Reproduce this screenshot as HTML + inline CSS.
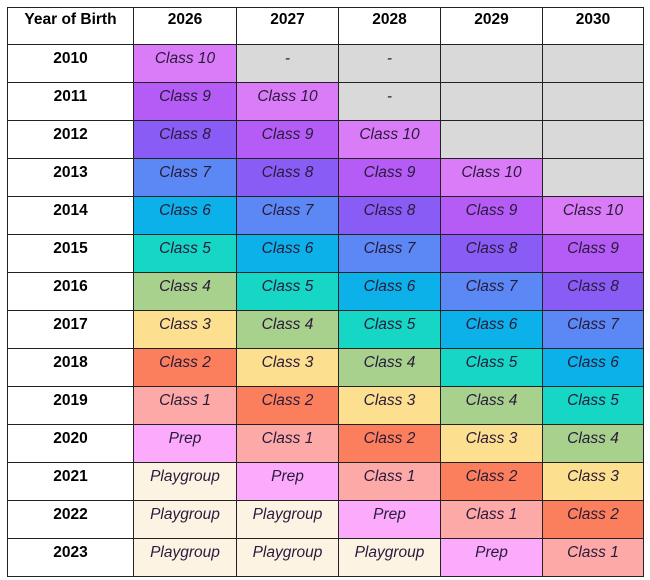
<!DOCTYPE html><html><head><style>
body{margin:0;background:#fff;width:650px;height:580px;overflow:hidden}
table{position:absolute;left:7px;top:7px;border-collapse:collapse;font-family:"Liberation Sans",sans-serif;table-layout:fixed}
td{border:1.5px solid #222;height:37px;padding:0;text-align:center;vertical-align:top;font-size:15.5px;line-height:27px;font-style:italic;color:#2a1a3a}
tr:first-child td{font-weight:bold;font-style:normal;color:#000;height:36px;line-height:24px}
td.y{font-weight:bold;font-style:normal;color:#000}
.c10{background:#da7cf7}.c9{background:#b45cf5}.c8{background:#8a5cf6}.c7{background:#5b88f5}.c6{background:#0cb1ea}.c5{background:#16d6c6}.c4{background:#a7d18d}.c3{background:#fde08f}.c2{background:#fc7f5d}.c1{background:#fca9a7}.p{background:#fcaafc}.g{background:#fdf3e3}.x{background:#d9d9d9}
</style></head><body>
<table>
<colgroup><col style="width:126px"><col style="width:103px"><col style="width:102px"><col style="width:102px"><col style="width:102px"><col style="width:101px"></colgroup>
<tr><td>Year of Birth</td><td>2026</td><td>2027</td><td>2028</td><td>2029</td><td>2030</td></tr>
<tr><td class="y">2010</td><td class="c10">Class 10</td><td class="x">-</td><td class="x">-</td><td class="x"></td><td class="x"></td></tr>
<tr><td class="y">2011</td><td class="c9">Class 9</td><td class="c10">Class 10</td><td class="x">-</td><td class="x"></td><td class="x"></td></tr>
<tr><td class="y">2012</td><td class="c8">Class 8</td><td class="c9">Class 9</td><td class="c10">Class 10</td><td class="x"></td><td class="x"></td></tr>
<tr><td class="y">2013</td><td class="c7">Class 7</td><td class="c8">Class 8</td><td class="c9">Class 9</td><td class="c10">Class 10</td><td class="x"></td></tr>
<tr><td class="y">2014</td><td class="c6">Class 6</td><td class="c7">Class 7</td><td class="c8">Class 8</td><td class="c9">Class 9</td><td class="c10">Class 10</td></tr>
<tr><td class="y">2015</td><td class="c5">Class 5</td><td class="c6">Class 6</td><td class="c7">Class 7</td><td class="c8">Class 8</td><td class="c9">Class 9</td></tr>
<tr><td class="y">2016</td><td class="c4">Class 4</td><td class="c5">Class 5</td><td class="c6">Class 6</td><td class="c7">Class 7</td><td class="c8">Class 8</td></tr>
<tr><td class="y">2017</td><td class="c3">Class 3</td><td class="c4">Class 4</td><td class="c5">Class 5</td><td class="c6">Class 6</td><td class="c7">Class 7</td></tr>
<tr><td class="y">2018</td><td class="c2">Class 2</td><td class="c3">Class 3</td><td class="c4">Class 4</td><td class="c5">Class 5</td><td class="c6">Class 6</td></tr>
<tr><td class="y">2019</td><td class="c1">Class 1</td><td class="c2">Class 2</td><td class="c3">Class 3</td><td class="c4">Class 4</td><td class="c5">Class 5</td></tr>
<tr><td class="y">2020</td><td class="p">Prep</td><td class="c1">Class 1</td><td class="c2">Class 2</td><td class="c3">Class 3</td><td class="c4">Class 4</td></tr>
<tr><td class="y">2021</td><td class="g">Playgroup</td><td class="p">Prep</td><td class="c1">Class 1</td><td class="c2">Class 2</td><td class="c3">Class 3</td></tr>
<tr><td class="y">2022</td><td class="g">Playgroup</td><td class="g">Playgroup</td><td class="p">Prep</td><td class="c1">Class 1</td><td class="c2">Class 2</td></tr>
<tr><td class="y">2023</td><td class="g">Playgroup</td><td class="g">Playgroup</td><td class="g">Playgroup</td><td class="p">Prep</td><td class="c1">Class 1</td></tr>
</table>
</body></html>
